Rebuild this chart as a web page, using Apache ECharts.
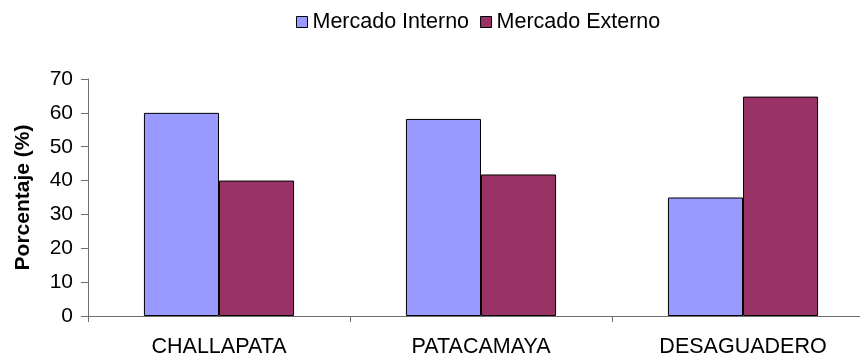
<!DOCTYPE html>
<html>
<head>
<meta charset="utf-8">
<script src="https://cdn.jsdelivr.net/npm/echarts@6/dist/echarts.min.js"></script>
<style>html,body{margin:0;padding:0;background:#fff;overflow:hidden}#c{width:880px;height:358px}</style>
</head>
<body>
<div id="c"></div>
<script>
var categories = ['CHALLAPATA', 'PATACAMAYA', 'DESAGUADERO'];
var mercadoInterno = [60, 58.2, 35];
var mercadoExterno = [40, 41.8, 64.8];
var yTicks = [0, 10, 20, 30, 40, 50, 60, 70];

var font = '"Liberation Sans", Arial, sans-serif';
var chart = echarts.init(document.getElementById('c'), null, {renderer: 'canvas'});
chart.setOption({
  animation: false,
  backgroundColor: '#fff',
  textStyle: {fontFamily: font},
  legend: {
    left: 291, top: 6,
    itemWidth: 11, itemHeight: 11, itemGap: 11,
    icon: 'rect',
    textStyle: {fontFamily: font, fontSize: 21.5, color: '#000'},
    data: [
      {name: 'Mercado Interno', itemStyle: {borderColor: '#000', borderWidth: 1}},
      {name: 'Mercado Externo', itemStyle: {borderColor: '#000', borderWidth: 1}}
    ]
  },
  grid: {left: 88, top: 79, right: 6, bottom: 41, containLabel: false},
  xAxis: {
    type: 'category',
    data: categories,
    axisLine: {lineStyle: {color: '#6e6e6e', width: 1}},
    axisTick: {show: true, length: 6, alignWithLabel: false, lineStyle: {color: '#6e6e6e'}},
    axisLabel: {fontFamily: font, fontSize: 21.5, color: '#000', margin: 20, interval: 0},
    splitLine: {show: false}
  },
  yAxis: {
    type: 'value',
    min: yTicks[0], max: yTicks[yTicks.length - 1], interval: 10,
    name: 'Porcentaje (%)',
    nameLocation: 'middle',
    nameGap: 54,
    nameRotate: 90,
    nameTextStyle: {fontFamily: font, fontSize: 21, fontWeight: 'bold', color: '#000'},
    axisLine: {show: true, lineStyle: {color: '#6e6e6e', width: 1}},
    axisTick: {show: true, length: 7, lineStyle: {color: '#6e6e6e'}},
    axisLabel: {fontFamily: font, fontSize: 21, color: '#000', margin: 15},
    splitLine: {show: false}
  },
  series: [
    {
      name: 'Mercado Interno', type: 'bar', data: mercadoInterno,
      barGap: '0%', barCategoryGap: '42.7%',
      itemStyle: {color: '#9999FF', borderColor: '#000', borderWidth: 1}
    },
    {
      name: 'Mercado Externo', type: 'bar', data: mercadoExterno,
      barGap: '0%', barCategoryGap: '42.7%',
      itemStyle: {color: '#993366', borderColor: '#000', borderWidth: 1}
    }
  ]
});
</script>
</body>
</html>
